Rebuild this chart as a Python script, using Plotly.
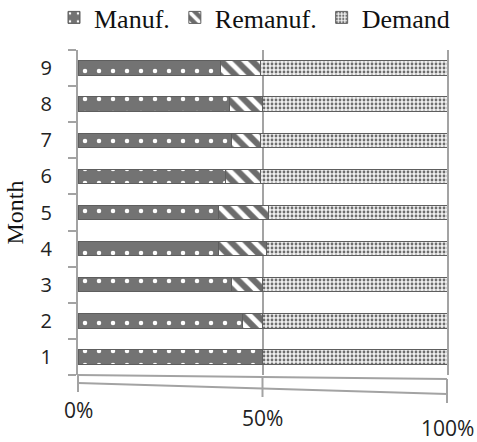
import plotly.graph_objects as go

# Monthly share of production vs. demand (percent of each month's total)
months = ["1", "2", "3", "4", "5", "6", "7", "8", "9"]
manuf = [50.0, 44.5, 41.5, 38.0, 38.0, 40.0, 41.5, 41.0, 38.5]
remanuf = [0.0, 5.5, 8.5, 13.0, 13.5, 9.5, 8.0, 9.0, 11.0]
demand = [50.0, 50.0, 50.0, 49.0, 48.5, 50.5, 50.5, 50.0, 50.5]
pct_ticks = [0, 50, 100]
pct_labels = ["0%", "50%", "100%"]

W, H = 477, 442
M_L, M_R, M_T, M_B = 78, 30, 50, 67
plot_w = W - M_L - M_R
plot_h = H - M_T - M_B
X_MAX = 100

AXIS_GRAY = "#a3a3a3"
EDGE = "#5e5e5e"

fig = go.Figure()
fig.add_trace(go.Bar(
    name="Manuf.", y=months, x=manuf, orientation="h",
    marker=dict(color="#707070", line=dict(color=EDGE, width=1),
                pattern=dict(shape=".", fgcolor="#ffffff", bgcolor="#737373",
                             size=14, solidity=0.08, fillmode="replace")),
))
fig.add_trace(go.Bar(
    name="Remanuf.", y=months, x=remanuf, orientation="h",
    marker=dict(color="#707070", line=dict(color=EDGE, width=1),
                pattern=dict(shape="\\", fgcolor="#ffffff", bgcolor="#6c6c6c",
                             size=11, solidity=0.45, fillmode="replace")),
))
fig.add_trace(go.Bar(
    name="Demand", y=months, x=demand, orientation="h",
    marker=dict(color="#ececec", line=dict(color=EDGE, width=1),
                pattern=dict(shape=".", fgcolor="#6e6e6e", bgcolor="#f0f0f0",
                             size=4, solidity=0.38, fillmode="replace")),
))


def py(px):
    """Convert a pixel row to paper y for the plotting area."""
    return (H - M_B - px) / plot_h


def pxx(px):
    """Convert a pixel column to paper x for the plotting area."""
    return (px - M_L) / plot_w


# floor of the chart: back edge, front edge with ticks, and connectors
floor = []
back = [(0, 375), (100, 379)]
front_y = {0: 383, 50: 388, 100: 394}
floor.append(dict(x0=back[0][0] / X_MAX, y0=py(back[0][1]),
                  x1=back[1][0] / X_MAX, y1=py(back[1][1])))
floor.append(dict(x0=0, y0=py(front_y[0]), x1=1, y1=py(front_y[100])))
for t in pct_ticks:
    fx = t / X_MAX
    floor.append(dict(x0=fx, y0=py(front_y[t]), x1=fx, y1=py(front_y[t] + 9)))
    by = back[0][1] + (back[1][1] - back[0][1]) * t / 100
    floor.append(dict(x0=fx, y0=py(by), x1=fx, y1=py(front_y[t])))
for s in floor:
    s.update(type="line", xref="paper", yref="paper",
             line=dict(color=AXIS_GRAY, width=2))

# percentage labels follow the slant of the floor
label_y = {0: 410, 50: 418, 100: 428}
annotations = [
    dict(x=t, y=py(label_y[t]), xref="x", yref="paper", text=lab,
         showarrow=False, xanchor="center", yanchor="middle",
         font=dict(family="Open Sans", size=21, color="#222222"))
    for t, lab in zip(pct_ticks, pct_labels)
]

fig.update_layout(
    width=W, height=H,
    margin=dict(l=M_L, r=M_R, t=M_T, b=M_B, autoexpand=False),
    barmode="stack", barnorm="percent", bargap=0.6,
    plot_bgcolor="white", paper_bgcolor="white",
    showlegend=True,
    legend=dict(orientation="h", x=pxx(54), xref="paper", xanchor="left",
                y=py(-6), yref="paper", yanchor="top",
                traceorder="normal",
                font=dict(family="Liberation Serif", size=26, color="#111111"),
                itemwidth=30, tracegroupgap=0, bgcolor="rgba(0,0,0,0)"),
    shapes=floor,
    annotations=annotations,
)
fig.update_xaxes(range=[0, X_MAX], tickvals=pct_ticks, showticklabels=False,
                 showgrid=True, gridcolor=AXIS_GRAY, gridwidth=2,
                 zeroline=False, showline=False, fixedrange=True)
fig.update_yaxes(type="category", categoryorder="array", categoryarray=months,
                 range=[-0.5, 8.5],
                 showline=True, mirror=True, linecolor=AXIS_GRAY, linewidth=2,
                 ticks="outside", tickson="boundaries", ticklen=8,
                 tickcolor=AXIS_GRAY, tickwidth=2, ticklabelstandoff=20,
                 tickfont=dict(family="Open Sans", size=20, color="#222222"),
                 title=dict(text="Month", standoff=10,
                            font=dict(family="Liberation Serif", size=24,
                                      color="#111111")),
                 showgrid=False, zeroline=False)

fig.write_html("out.html")
